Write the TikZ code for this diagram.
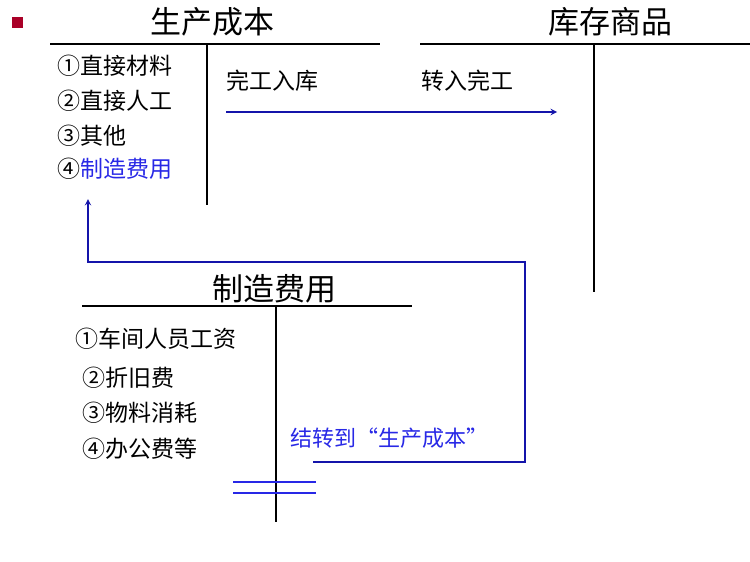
\documentclass[tikz,border=0pt]{standalone}
\usepackage{fontspec}
\setmainfont{Noto Sans CJK SC}
\definecolor{lblue}{RGB}{20,20,170}
\definecolor{tblue}{RGB}{40,40,230}
\definecolor{bred}{RGB}{170,0,40}
\begin{document}
\begin{tikzpicture}[x=1pt,y=-1pt,
  ttl/.style={font=\fontsize{31}{33}\selectfont,inner sep=0},
  itm/.style={font=\fontsize{23}{25}\selectfont,anchor=west,inner sep=0},
  acc/.style={line width=1.6pt},
  conn/.style={lblue,line width=1.8pt}]
\useasboundingbox (0,0) rectangle (750,562);
\fill[bred] (12,17) rectangle (23,28);
% 生产成本
\node[ttl] (t1) at (212,22) {生产成本};
\draw[acc] (50,44) -- (380,44);
\draw[acc] (207,44) -- (207,205);
\node[itm] (a1) at (57,66) {①直接材料};
\node[itm] (a2) at (57,101) {②直接人工};
\node[itm] (a3) at (57,136) {③其他};
\node[itm] (a4) at (57,169) {④\textcolor{tblue}{制造费用}};
% 库存商品
\node[ttl] (t2) at (610,22) {库存商品};
\draw[acc] (420,44) -- (750,44);
\draw[acc] (594,44) -- (594,292);
\node[itm] (w1) at (226,81) {完工入库};
\node[itm] (w2) at (421,81) {转入完工};
\coordinate (as) at (226,112);
\coordinate (ae) at (557,112);
\draw[conn,-stealth] (as) -- (ae);
% 制造费用
\node[ttl] (t3) at (274,289) {制造费用};
\draw[acc] (82,306) -- (412,306);
\draw[acc] (276,306) -- (276,522);
\node[itm] (b1) at (75,339) {①车间人员工资};
\node[itm] (b2) at (82,378) {②折旧费};
\node[itm] (b3) at (82,413) {③物料消耗};
\node[itm] (b4) at (82,449) {④办公费等};
\node[itm,text=tblue,font=\fontsize{22}{24}\selectfont] (jz) at (290,438) {结转到“生产成本”};
\coordinate (p0) at (313,462);
\coordinate (p1) at (525,462);
\coordinate (p2) at (525,262);
\coordinate (p3) at (88,262);
\coordinate (p4) at (88,199);
\draw[conn,-stealth] (p0) -- (p1) -- (p2) -- (p3) -- (p4);
\coordinate (d1) at (233,482); \coordinate (d2) at (316,482);
\coordinate (d3) at (233,493); \coordinate (d4) at (316,493);
\draw[conn,tblue] (d1) -- (d2);
\draw[conn,tblue] (d3) -- (d4);
\end{tikzpicture}
\end{document}
